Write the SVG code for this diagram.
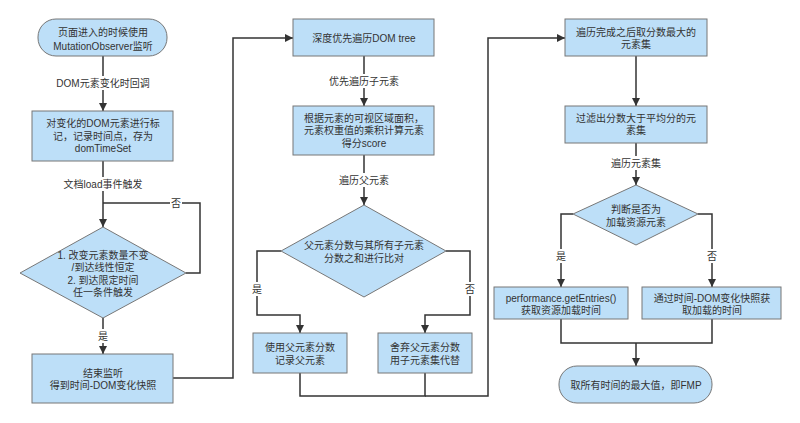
<svg xmlns="http://www.w3.org/2000/svg" width="800" height="423" viewBox="0 0 800 423">
<defs>
<marker id="arr" viewBox="0 0 10 10" refX="10" refY="5" markerWidth="8" markerHeight="8" markerUnits="userSpaceOnUse" orient="auto">
<path d="M0,0 L10,5 L0,10 z" fill="#333"/>
</marker>
<style>
text{font-family:"Liberation Sans","Noto Sans CJK SC",sans-serif;font-size:10px;fill:#333;text-anchor:middle;dominant-baseline:central}
.n{fill:#bddff8;stroke:#777;stroke-width:1}
.e{fill:none;stroke:#333;stroke-width:1.5}
.a{marker-end:url(#arr)}
.bg{fill:#fff}
</style>
</defs>
<rect width="800" height="423" fill="#fff"/>
<g id="connectors">
<path class="e a" d="M103,56 V111"/>
<path class="e" d="M103,161 V203"/>
<path class="e a" d="M103,203 V227"/>
<path class="e" d="M186,273 H200 V203 H103"/>
<path class="e a" d="M103,318 V354"/>
<path class="e a" d="M173,378 H233 V38 H293"/>
<path class="e a" d="M364,56 V106"/>
<path class="e a" d="M364,155 V205"/>
<path class="e a" d="M281,251 H257 V315 H300 V333"/>
<path class="e a" d="M446,251 H470 V315 H425 V333"/>
<path class="e" d="M300,373 V396 H425 V373"/>
<path class="e a" d="M425,396 H488 V38 H565"/>
<path class="e a" d="M636,56 V106"/>
<path class="e a" d="M636,143 V185"/>
<path class="e a" d="M573,214 H561 V287"/>
<path class="e a" d="M698,214 H712 V287"/>
<path class="e" d="M561,319 V343 H712 V319"/>
<path class="e a" d="M636,343 V366"/>
<rect class="bg" x="53" y="76" width="100" height="14"/>
<text x="103" y="83">DOM元素变化时回调</text>
<rect class="bg" x="58" y="177" width="90" height="14"/>
<text x="103" y="184">文档load事件触发</text>
<rect class="bg" x="170" y="196" width="12" height="14"/>
<text x="176" y="203">否</text>
<rect class="bg" x="97" y="329" width="12" height="14"/>
<text x="103" y="336">是</text>
<rect class="bg" x="323" y="74" width="82" height="14"/>
<text x="364" y="81">优先遍历子元素</text>
<rect class="bg" x="337" y="173" width="54" height="14"/>
<text x="364" y="180">遍历父元素</text>
<rect class="bg" x="251" y="282" width="12" height="14"/>
<text x="257" y="289">是</text>
<rect class="bg" x="464" y="282" width="12" height="14"/>
<text x="470" y="289">否</text>
<rect class="bg" x="609" y="156" width="54" height="14"/>
<text x="636" y="163">遍历元素集</text>
<rect class="bg" x="555" y="249" width="12" height="14"/>
<text x="561" y="256">是</text>
<rect class="bg" x="706" y="249" width="12" height="14"/>
<text x="712" y="256">否</text>
</g>
<g id="start">
<rect class="n" x="38" y="19" width="129" height="37" rx="18" ry="18"/>
<text x="103" y="32">页面进入的时候使用</text>
<text x="103" y="46">MutationObserver监听</text>
</g>
<g id="mark">
<rect class="n" x="32" y="111" width="141" height="50"/>
<text x="103" y="123">对变化的DOM元素进行标</text>
<text x="103" y="136">记，记录时间点，存为</text>
<text x="103" y="148">domTimeSet</text>
</g>
<g id="cond">
<polygon class="n" points="103,227 186,273 103,318 20,273"/>
<text x="103" y="255">1. 改变元素数量不变</text>
<text x="103" y="267">/到达线性恒定</text>
<text x="103" y="280">2. 到达限定时间</text>
<text x="103" y="292">任一条件触发</text>
</g>
<g id="endwatch">
<rect class="n" x="32" y="354" width="141" height="49"/>
<text x="103" y="373">结束监听</text>
<text x="103" y="385">得到时间-DOM变化快照</text>
</g>
<g id="dfs">
<rect class="n" x="293" y="19" width="141" height="37"/>
<text x="364" y="38">深度优先遍历DOM tree</text>
</g>
<g id="score">
<rect class="n" x="293" y="106" width="141" height="49"/>
<text x="364" y="118">根据元素的可视区域面积，</text>
<text x="364" y="130">元素权重值的乘积计算元素</text>
<text x="364" y="143">得分score</text>
</g>
<g id="compare">
<polygon class="n" points="364,205 446,251 364,297 281,251"/>
<text x="364" y="245">父元素分数与其所有子元素</text>
<text x="364" y="258">分数之和进行比对</text>
</g>
<g id="useparent">
<rect class="n" x="253" y="333" width="94" height="40"/>
<text x="300" y="347">使用父元素分数</text>
<text x="300" y="360">记录父元素</text>
</g>
<g id="usechild">
<rect class="n" x="378" y="333" width="94" height="40"/>
<text x="425" y="347">舍弃父元素分数</text>
<text x="425" y="360">用子元素集代替</text>
</g>
<g id="maxset">
<rect class="n" x="565" y="19" width="142" height="37"/>
<text x="636" y="32">遍历完成之后取分数最大的</text>
<text x="636" y="44">元素集</text>
</g>
<g id="filter">
<rect class="n" x="565" y="106" width="142" height="37"/>
<text x="636" y="118">过滤出分数大于平均分的元</text>
<text x="636" y="130">素集</text>
</g>
<g id="isres">
<polygon class="n" points="636,185 698,214 636,245 573,214"/>
<text x="636" y="209">判断是否为</text>
<text x="636" y="222">加载资源元素</text>
</g>
<g id="perf">
<rect class="n" x="494" y="287" width="134" height="32"/>
<text x="561" y="298">performance.getEntries()</text>
<text x="561" y="310">获取资源加载时间</text>
</g>
<g id="snap">
<rect class="n" x="642" y="287" width="139" height="32"/>
<text x="712" y="298">通过时间-DOM变化快照获</text>
<text x="712" y="310">取加载的时间</text>
</g>
<g id="fmp">
<rect class="n" x="559" y="366" width="153" height="37" rx="18" ry="18"/>
<text x="636" y="385">取所有时间的最大值，即FMP</text>
</g>
</svg>
